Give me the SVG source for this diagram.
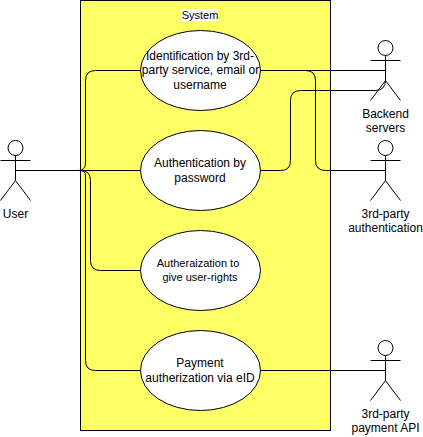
<svg xmlns="http://www.w3.org/2000/svg" width="423" height="437" viewBox="0 0 423 437">
<style>
text{font-family:"Liberation Sans",Arial,sans-serif;font-size:12px;fill:#000;text-anchor:middle}
.s{fill:none;stroke:#000;stroke-width:1}
.u{fill:#fff;stroke:#000;stroke-width:1}
.sm{font-size:11px}
</style>
<defs>
<g id="actor"><circle class="u" cx="0" cy="7.500" r="7.500"/><path class="s" d="M0 15V40M-15 20H15M-15 60L0 40L15 60"/></g>
</defs>
<rect width="423" height="437" fill="#fff"/>
<g id="system"><rect x="80.500" y="0.500" width="250" height="430" fill="#ffff66" stroke="#000"/><rect x="182" y="9" width="36" height="12" fill="#fff"/><text class="sm" x="200" y="19">System</text></g>
<g id="connectors">
<path class="s" d="M15.500 170.500H78Q85.500 170.500 85.500 163V80.500Q85.500 70.500 95.500 70.500H140.500"/>
<path class="s" d="M15.500 170.500H140.500"/>
<path class="s" d="M78 170.500H80.500Q90.500 170.500 90.500 180.500V260.500Q90.500 270.500 100.500 270.500H140.500"/>
<path class="s" d="M78 170.500H80Q85.500 170.500 85.500 176V360.500Q85.500 370.500 95.500 370.500H140.500"/>
<path class="s" d="M260.500 70.500H385.500"/>
<path class="s" d="M260.500 70.500H305.500Q315.500 70.500 315.500 80.500V160.500Q315.500 170.500 325.500 170.500H385.500"/>
<path class="s" d="M260.500 170.500H280.500Q290.500 170.500 290.500 160.500V100.500Q290.500 90.500 300.500 90.500H375Q385.500 90.500 385.500 80"/>
<path class="s" d="M260.500 370.500H385.500"/>
</g>
<g id="uc1"><ellipse class="u" cx="200.500" cy="70.500" rx="60" ry="40"/><text x="200" y="60">Identification by 3rd-</text><text x="200.500" y="74">party service, email or</text><text x="200" y="89">username</text></g>
<g id="uc2"><ellipse class="u" cx="200.500" cy="170.500" rx="60" ry="40"/><text x="200" y="167">Authentication by</text><text x="200" y="182">password</text></g>
<g id="uc3"><ellipse class="u" cx="200.500" cy="270.500" rx="60" ry="40"/><text class="sm" x="198" y="267">Autheraization to</text><text class="sm" x="200" y="281">give user-rights</text></g>
<g id="uc4"><ellipse class="u" cx="200.500" cy="370.500" rx="60" ry="40"/><text x="200" y="367">Payment</text><text x="200" y="382">autherization via eID</text></g>
<g id="user"><use href="#actor" x="15.500" y="140.500"/><text x="15.500" y="218">User</text></g>
<g id="backend"><use href="#actor" x="385.500" y="40.500"/><text x="385.500" y="118">Backend</text><text x="385.500" y="132">servers</text></g>
<g id="auth"><use href="#actor" x="385.500" y="140.500"/><text x="385.500" y="218">3rd-party</text><text x="385.500" y="232">authentication</text></g>
<g id="pay"><use href="#actor" x="385.500" y="340.500"/><text x="385.500" y="418">3rd-party</text><text x="385.500" y="432">payment API</text></g>
</svg>
